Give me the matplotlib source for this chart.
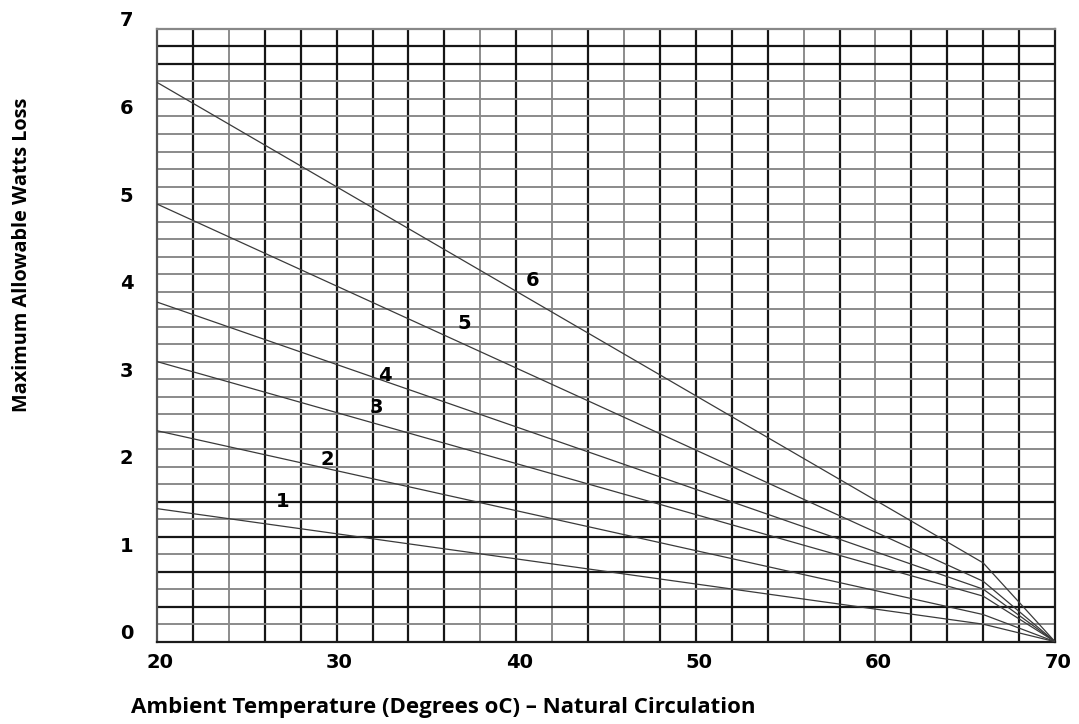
import numpy as np
import matplotlib
matplotlib.use("Agg")
from matplotlib import pyplot as plt
from matplotlib import transforms

# curve data: ambient temperature (C) vs max allowable watts loss
temps = [20, 66, 70]
curve_1 = [1.52, 0.20, 0.0]
curve_2 = [2.41, 0.31, 0.0]
curve_3 = [3.20, 0.52, 0.0]
curve_4 = [3.88, 0.60, 0.0]
curve_5 = [5.00, 0.69, 0.0]
curve_6 = [6.39, 0.90, 0.0]
curves = [curve_1, curve_2, curve_3, curve_4, curve_5, curve_6]

curve_names = ["1", "2", "3", "4", "5", "6"]
label_x = [27.0, 29.5, 32.2, 32.7, 37.1, 40.9]
label_y = [1.60, 2.08, 2.68, 3.04, 3.64, 4.13]

x_ticks = [20, 30, 40, 50, 60, 70]
y_ticks = [0, 1, 2, 3, 4, 5, 6, 7]

# grid lines that print lighter / darker on the original sheet
light_verticals = [24, 38, 42, 46, 56, 60]
dark_horizontals = [0.4, 0.8, 1.2, 1.6, 6.6, 6.8]

fig = plt.figure(figsize=(10.79, 7.24), dpi=100)
ax = fig.add_axes([0.1455, 0.1137, 0.9778 - 0.1455, 0.96 - 0.1137])
ax.set_xlim(20, 70)
ax.set_ylim(0, 7)

for x in np.arange(22, 70, 2):
    light = any(abs(x - v) < 1e-6 for v in light_verticals)
    ax.axvline(x, color="#8c8c8c" if light else "#161616",
               lw=1.4 if light else 1.6, zorder=1)
for y in np.arange(0.2, 7.0, 0.2):
    dark = any(abs(y - v) < 1e-6 for v in dark_horizontals)
    ax.axhline(y, color="#161616" if dark else "#8a8a8a",
               lw=1.6 if dark else 1.4, zorder=1)

for vals in curves:
    ax.plot(temps, vals, color="#3a3a3a", lw=0.9, zorder=3)

for name, lx, ly in zip(curve_names, label_x, label_y):
    ax.text(lx, ly, name, fontsize=14, fontweight="heavy", ha="center",
            va="center", zorder=4)

for s in ax.spines.values():
    s.set_color("#1c1c1c")
    s.set_linewidth(1.6)
ax.spines["left"].set_color("#555555")
ax.spines["top"].set_color("#888888")

ax.set_xticks(x_ticks)
ax.set_yticks(y_ticks)
ax.set_xticklabels([str(v) for v in x_ticks], fontsize=14, fontweight="bold")
ax.set_yticklabels([str(v) for v in y_ticks], fontsize=14, fontweight="bold")
ax.tick_params(length=0)
ax.tick_params(axis="x", pad=8)
ax.tick_params(axis="y", pad=22)

# the printed tick labels sit a little off the grid
off_y = transforms.ScaledTranslation(0, 10 / 100, fig.dpi_scale_trans)
for t in ax.get_yticklabels():
    t.set_transform(t.get_transform() + off_y)
    t.set_horizontalalignment("center")
off_x = transforms.ScaledTranslation(3 / 100, 0, fig.dpi_scale_trans)
for t in ax.get_xticklabels():
    t.set_transform(t.get_transform() + off_x)

fig.text(22 / 1079, 1 - 255 / 724, "Maximum Allowable Watts Loss",
         rotation=90, ha="center", va="center", fontsize=14.3,
         fontweight="bold", family="Open Sans")
fig.text(443 / 1079, 1 - 708 / 724,
         "Ambient Temperature (Degrees oC) \u2013 Natural Circulation",
         ha="center", va="center", fontsize=16, fontweight="bold",
         family="Open Sans")

fig.savefig("out.png", dpi=100)
